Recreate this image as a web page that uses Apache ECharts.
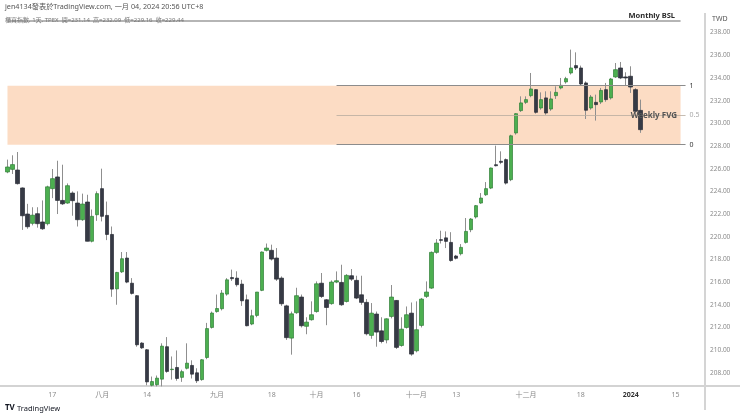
<!DOCTYPE html>
<html>
<head>
<meta charset="utf-8">
<script src="https://cdn.jsdelivr.net/npm/echarts@6/dist/echarts.min.js"></script>
<style>
html,body{margin:0;padding:0;background:#fff;}
#c{width:740px;height:417px;}
</style>
</head>
<body>
<div id="c"></div>
<script>
// ---- categories (trading days, plus empty future days on the right) ----
const dates = [
'2023-07-03','2023-07-04','2023-07-05','2023-07-06','2023-07-07','2023-07-10','2023-07-11','2023-07-12','2023-07-13','2023-07-14',
'2023-07-17','2023-07-18','2023-07-19','2023-07-20','2023-07-21','2023-07-24','2023-07-25','2023-07-26','2023-07-27','2023-07-31',
'2023-08-01','2023-08-02','2023-08-03','2023-08-04','2023-08-07','2023-08-08','2023-08-09','2023-08-10','2023-08-11','2023-08-14',
'2023-08-15','2023-08-16','2023-08-17','2023-08-18','2023-08-21','2023-08-22','2023-08-23','2023-08-24','2023-08-25','2023-08-28',
'2023-08-29','2023-08-30','2023-08-31','2023-09-01','2023-09-04','2023-09-05','2023-09-06','2023-09-07','2023-09-08','2023-09-11',
'2023-09-12','2023-09-13','2023-09-14','2023-09-15','2023-09-18','2023-09-19','2023-09-20','2023-09-21','2023-09-22','2023-09-25',
'2023-09-26','2023-09-27','2023-09-28','2023-10-02','2023-10-03','2023-10-04','2023-10-05','2023-10-06','2023-10-11','2023-10-12',
'2023-10-13','2023-10-16','2023-10-17','2023-10-18','2023-10-19','2023-10-20','2023-10-23','2023-10-24','2023-10-25','2023-10-26',
'2023-10-27','2023-10-30','2023-10-31','2023-11-01','2023-11-02','2023-11-03','2023-11-06','2023-11-07','2023-11-08','2023-11-09',
'2023-11-10','2023-11-13','2023-11-14','2023-11-15','2023-11-16','2023-11-17','2023-11-20','2023-11-21','2023-11-22','2023-11-23',
'2023-11-24','2023-11-27','2023-11-28','2023-11-29','2023-11-30','2023-12-01','2023-12-04','2023-12-05','2023-12-06','2023-12-07',
'2023-12-08','2023-12-11','2023-12-12','2023-12-13','2023-12-14','2023-12-15','2023-12-18','2023-12-19','2023-12-20','2023-12-21',
'2023-12-22','2023-12-25','2023-12-26','2023-12-27','2023-12-28','2023-12-29','2024-01-02','2024-01-03','2024-01-04','2024-01-05',
'2024-01-08','2024-01-09','2024-01-10','2024-01-11','2024-01-12','2024-01-15','2024-01-16','2024-01-17','2024-01-18','2024-01-19',
'2024-01-22'
];

// ---- OHLC values ----
const opens = [null,
225.71,225.94,225.88,224.30,222.00,221.18,222.03,221.30,221.15,224.24,
225.27,223.20,222.97,223.85,222.97,221.50,223.06,219.60,221.94,224.24,
221.88,220.20,215.40,216.90,218.12,215.90,214.80,210.62,210.03,206.90,
206.95,207.44,210.30,208.28,208.47,207.60,208.40,208.65,208.00,207.40,
209.35,212.00,213.40,213.65,214.94,216.40,216.35,215.82,214.44,212.30,
213.06,215.27,218.80,218.80,218.12,216.35,213.90,211.06,213.30,214.68,
212.10,212.68,213.40,215.90,214.44,214.10,216.00,215.97,214.29,216.56,
216.15,214.88,214.21,211.30,213.18,211.70,210.90,212.97,214.38,210.41,
212.00,213.26,209.94,212.18,214.74,215.47,218.62,219.74,219.90,219.50,
218.30,218.50,219.50,220.62,221.74,222.97,223.70,224.29,226.35,226.65,
226.80,225.03,229.15,231.12,231.85,232.44,232.97,231.35,232.24,231.26,
232.44,233.12,233.65,234.44,235.09,234.88,233.56,231.35,231.85,231.88,
232.97,232.24,234.09,234.88,234.09,234.15,232.97,231.14];
const highs = [null,
226.80,227.18,227.47,224.35,222.90,222.60,222.60,223.20,224.50,225.97,
226.70,226.35,224.70,224.00,224.00,223.80,223.70,222.40,224.00,226.00,
223.10,220.90,216.90,218.65,218.65,216.35,214.85,210.70,210.10,207.67,
207.76,210.60,211.15,209.44,209.97,208.27,210.60,209.10,208.40,209.20,
212.40,213.40,214.90,215.30,216.35,217.10,216.95,216.20,214.90,213.56,
215.12,218.70,219.40,219.30,219.00,216.50,214.00,213.40,215.50,214.90,
212.90,214.30,216.06,216.80,214.50,216.15,216.94,217.53,216.70,217.15,
216.56,216.56,214.50,214.15,213.40,212.90,212.80,215.74,214.40,212.90,
213.85,214.20,214.30,214.60,216.06,218.70,219.79,220.53,220.47,220.40,
218.40,219.35,221.65,221.65,222.80,223.85,224.82,226.10,228.03,227.53,
226.90,229.00,230.90,232.38,232.38,234.44,233.00,232.73,232.82,232.82,
233.26,234.00,234.10,236.50,236.26,235.09,233.70,232.50,232.53,233.12,
233.56,234.00,235.32,235.41,234.50,235.03,233.10,232.09];
const lows = [null,
225.60,225.53,224.60,220.60,220.70,221.00,220.80,220.60,221.00,223.40,
222.00,222.80,222.90,221.85,220.90,221.40,219.60,219.50,221.40,221.35,
219.70,214.70,214.00,216.80,215.90,214.90,210.30,210.10,206.90,206.80,
206.80,206.80,208.00,207.40,207.30,207.20,208.30,207.50,207.10,207.30,
209.20,211.90,213.30,213.50,214.80,216.10,215.60,213.90,212.10,212.20,
212.90,215.20,218.70,217.90,216.10,213.90,210.90,209.60,213.20,212.00,
211.40,212.60,213.30,214.60,212.20,214.00,215.90,213.90,214.20,216.10,
214.50,214.00,211.30,211.00,210.30,210.60,210.60,212.80,210.10,210.30,
211.90,209.50,209.80,212.00,214.60,215.40,218.50,219.40,219.00,217.80,
218.00,218.35,219.40,220.40,221.60,222.90,223.60,224.20,226.20,226.40,
224.60,224.90,229.00,231.00,231.70,232.30,230.85,231.20,230.76,231.10,
232.15,233.00,233.50,234.30,234.70,233.30,230.38,231.20,230.24,231.70,
231.90,232.10,234.00,233.90,233.30,232.68,230.90,229.16];
const closes = [null,
226.15,226.36,224.68,221.85,220.88,221.90,221.15,220.70,224.40,225.12,
223.20,222.90,224.50,223.18,221.50,222.88,219.60,221.80,223.80,221.80,
220.20,215.38,216.85,218.06,216.00,215.00,210.47,210.20,207.20,207.23,
207.53,210.35,208.12,208.32,207.50,208.10,208.85,207.88,207.30,209.15,
211.90,213.27,213.67,215.03,216.20,216.30,215.77,214.35,212.15,213.03,
215.12,218.65,219.00,218.03,216.26,214.09,211.10,213.20,214.80,212.15,
212.47,213.12,215.85,214.73,213.76,216.00,216.12,214.00,216.59,216.26,
214.59,214.21,211.44,213.26,211.59,210.76,212.76,214.68,210.24,211.85,
213.12,209.65,211.80,214.50,215.12,218.62,219.44,219.68,219.59,217.90,
218.10,219.06,220.47,221.56,222.74,223.41,224.24,226.06,226.26,226.56,
224.73,228.90,230.85,231.80,232.09,233.03,230.97,232.09,230.91,232.15,
232.73,233.35,233.94,234.88,234.88,233.47,231.15,232.32,231.65,232.90,
232.09,233.91,234.73,234.00,234.00,233.20,231.06,229.44];

// ---- axis tick labels ----
const tickDates = ['2023-07-17','2023-08-01','2023-08-14','2023-09-01','2023-09-18','2023-10-02','2023-10-16','2023-11-01','2023-11-13','2023-12-01','2023-12-18','2024-01-02','2024-01-15'];
const tickTexts = ['17','八月','14','九月','18','十月','16','十一月','13','十二月','18','2024','15'];
const priceTicks = [208,210,212,214,216,218,220,222,224,226,228,230,232,234,236,238];

// ---- drawings ----
const bslLevel = 239.06;
const fvgTop = 233.32;
const fvgMid = 230.70;
const fvgBottom = 228.12;
const bslStart = '2023-07-04', bslEnd = '2024-01-16';
const fvgFillStart = '2023-07-04', fvgFillEnd = '2024-01-16';
const fvgLineStart = '2023-10-06', fvgLineEnd = '2024-01-17';

const headerText = 'jen4134發表於TradingView.com, 一月 04, 2024 20:56 UTC+8';
const symbolText = '櫃買指數, 1天, TPEX';

const last = closes.length - 1;
const fmt = v => v.toFixed(2);

const wickData = dates.map((d, i) => (i < opens.length && opens[i] != null) ? [opens[i], closes[i], lows[i], highs[i]] : '-');
const bodyData = dates.map((d, i) => (i < opens.length && opens[i] != null) ? [opens[i], closes[i], Math.min(opens[i], closes[i]), Math.max(opens[i], closes[i])] : '-');

const FONT = "'Noto Sans', 'Noto Sans CJK TC', sans-serif";
const chart = echarts.init(document.getElementById('c'), null, {renderer: 'canvas'});

const option = {
  animation: false,
  backgroundColor: '#ffffff',
  textStyle: {fontFamily: FONT},
  grid: {left: 0, right: 37, top: 0, bottom: 31},
  xAxis: {
    type: 'category',
    data: dates,
    boundaryGap: true,
    axisLine: {show: false},
    axisTick: {show: false},
    splitLine: {show: false},
    axisLabel: {
      interval: (idx, val) => tickDates.indexOf(val) >= 0,
      formatter: (val) => {
        const k = tickDates.indexOf(val);
        if (k < 0) return '';
        return tickTexts[k] === '2024' ? '{b|2024}' : tickTexts[k];
      },
      color: '#8a8a8a', fontSize: 7, margin: 5, fontFamily: FONT,
      hideOverlap: false,
      rich: {b: {fontWeight: 'bold', color: '#333', fontSize: 7, fontFamily: FONT}}
    }
  },
  yAxis: {
    type: 'value',
    position: 'right',
    scale: true,
    min: 206.836,
    max: 240.875,
    axisLine: {show: false},
    axisTick: {show: false},
    splitLine: {show: false},
    axisLabel: {
      customValues: priceTicks,
      formatter: v => fmt(v),
      color: '#8a8a8a', fontSize: 6.5, margin: 7, fontFamily: FONT
    }
  },
  series: [
    {
      name: 'wick',
      type: 'candlestick',
      data: wickData,
      barWidth: 1,
      silent: true,
      itemStyle: {color: '#8f8f8f', color0: '#8f8f8f', borderColor: '#8f8f8f', borderColor0: '#8f8f8f', borderWidth: 1},
      z: 3
    },
    {
      name: 'body',
      type: 'candlestick',
      data: bodyData,
      barWidth: 4,
      silent: true,
      itemStyle: {color: '#4caf50', color0: '#363a45', borderColor: '#2f7f36', borderColor0: '#2a2d36', borderWidth: 0.7},
      z: 4,
      markArea: {
        silent: true,
        itemStyle: {color: '#fcdcc4'},
        data: [[{xAxis: fvgFillStart, yAxis: fvgTop}, {xAxis: fvgFillEnd, yAxis: fvgBottom}]]
      },
      markLine: {
        silent: true,
        symbol: ['none', 'none'],
        precision: 2,
        data: [
          [{coord: [bslStart, bslLevel], lineStyle: {color: '#9c9c9c', width: 1.5, type: 'solid'}, label: {show: false}},
           {coord: [bslEnd, bslLevel]}],
          [{coord: [fvgLineStart, fvgTop], lineStyle: {color: '#8c8c8c', width: 1, type: 'solid'},
            label: {show: true, position: 'end', formatter: '1', color: '#333', fontSize: 7, distance: 4}},
           {coord: [fvgLineEnd, fvgTop]}],
          [{coord: [fvgLineStart, fvgMid], lineStyle: {color: '#b8aca0', width: 0.8, type: 'solid'},
            label: {show: true, position: 'end', formatter: '0.5', color: '#a8a8a8', fontSize: 7, distance: 4}},
           {coord: [fvgLineEnd, fvgMid]}],
          [{coord: [fvgLineStart, fvgBottom], lineStyle: {color: '#8c8c8c', width: 1, type: 'solid'},
            label: {show: true, position: 'end', formatter: '0', color: '#333', fontSize: 7, distance: 4}},
           {coord: [fvgLineEnd, fvgBottom]}],
          {yAxis: closes[last], lineStyle: {opacity: 0},
            label: {show: true, position: 'end', formatter: fmt(closes[last]), color: '#fff', fontSize: 6.5,
              backgroundColor: '#363a45', padding: [2, 4, 1, 4], distance: 3}}
        ]
      },
      markPoint: {
        silent: true,
        symbol: 'circle',
        symbolSize: 1,
        itemStyle: {color: 'rgba(0,0,0,0)'},
        data: [
          {coord: [bslEnd, bslLevel], label: {show: true, formatter: 'Monthly BSL', position: 'left', distance: 5, offset: [0, -5],
            color: '#2a2a2a', fontWeight: 'bold', fontSize: 7.5, fontFamily: FONT}},
          {coord: [bslEnd, fvgMid], label: {show: true, formatter: 'Weekly FVG', position: 'left', distance: 3,
            color: '#555', fontWeight: 'bold', fontSize: 8, fontFamily: FONT}}
        ]
      }
    }
  ],
  graphic: [
    {type: 'text', left: 5, top: 3, z: 20, silent: true,
      style: {text: headerText, fill: '#555', fontSize: 7.2, fontFamily: FONT}},
    {type: 'text', left: 5, top: 17, z: 20, silent: true,
      style: {text: symbolText + '  開=' + fmt(opens[last]) + '  高=' + fmt(highs[last]) + '  低=' + fmt(lows[last]) + '  收=' + fmt(closes[last]),
        fill: '#777', fontSize: 6, fontFamily: FONT}},
    {type: 'text', left: 712, top: 16, z: 20, silent: true,
      style: {text: 'TWD', fill: '#555', fontSize: 7, fontFamily: FONT}},
    {type: 'line', z: 1, silent: true, shape: {x1: 0, y1: 386, x2: 740, y2: 386}, style: {stroke: '#c4c4c4', lineWidth: 1.5}},
    {type: 'line', z: 1, silent: true, shape: {x1: 705, y1: 13, x2: 705, y2: 410}, style: {stroke: '#d4d4d4', lineWidth: 2}},
    {type: 'text', left: 5, top: 404, z: 20, silent: true,
      style: {text: 'TV', fill: '#131722', fontSize: 8, fontWeight: 'bold', fontFamily: FONT}},
    {type: 'text', left: 17, top: 405, z: 20, silent: true,
      style: {text: 'TradingView', fill: '#131722', fontSize: 7.5, fontFamily: FONT}}
  ]
};
chart.setOption(option);
</script>
</body>
</html>
